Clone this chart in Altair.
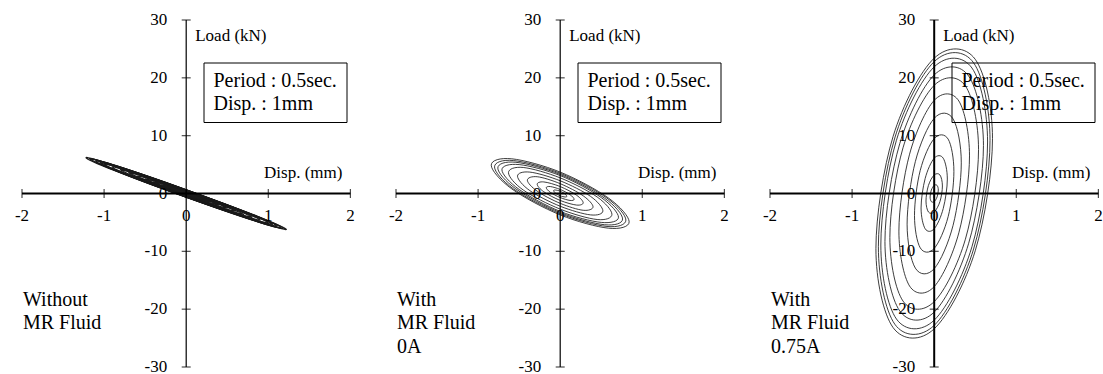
import altair as alt
import pandas as pd

# ---------------- data ----------------
X_TICKS = [-2, -1, 0, 1, 2]
Y_TICKS = [-30, -20, -10, 0, 10, 20, 30]
X_TITLE = "Disp. (mm)"
Y_TITLE = "Load (kN)"
BOX_LINES = ["Period : 0.5sec.", "Disp. : 1mm"]
PANEL_LABELS = [["Without", "MR Fluid"],
                ["With", "MR Fluid", "0A"],
                ["With", "MR Fluid", "0.75A"]]

# Panel 1 : without MR fluid (8 points read around each loop)
P1_DISP = [
    [1.22, 0.86, 0.0, -0.86, -1.22, -0.86, 0.0, 0.86],
    [1.18, 0.83, 0.0, -0.83, -1.18, -0.83, 0.0, 0.83],
    [1.15, 0.81, 0.0, -0.81, -1.15, -0.81, 0.0, 0.81],
    [1.10, 0.78, 0.0, -0.78, -1.10, -0.78, 0.0, 0.78],
    [1.05, 0.74, 0.0, -0.74, -1.05, -0.74, 0.0, 0.74],
    [1.00, 0.71, 0.0, -0.71, -1.00, -0.71, 0.0, 0.71],
    [0.90, 0.64, 0.0, -0.64, -0.90, -0.64, 0.0, 0.64],
    [0.80, 0.57, 0.0, -0.57, -0.80, -0.57, 0.0, 0.57],
    [0.70, 0.49, 0.0, -0.49, -0.70, -0.49, 0.0, 0.49],
    [0.60, 0.42, 0.0, -0.42, -0.60, -0.42, 0.0, 0.42],
    [0.50, 0.35, 0.0, -0.35, -0.50, -0.35, 0.0, 0.35],
    [0.40, 0.28, 0.0, -0.28, -0.40, -0.28, 0.0, 0.28],
    [0.30, 0.21, 0.0, -0.21, -0.30, -0.21, 0.0, 0.21],
    [0.20, 0.14, 0.0, -0.14, -0.20, -0.14, 0.0, 0.14],
]
P1_LOAD = [
    [-6.2, -4.8, -0.65, 3.9, 6.2, 4.8, 0.65, -3.9],
    [-6.0, -4.7, -0.63, 3.8, 6.0, 4.7, 0.63, -3.8],
    [-5.9, -4.6, -0.62, 3.7, 5.9, 4.6, 0.62, -3.7],
    [-5.6, -4.4, -0.59, 3.5, 5.6, 4.4, 0.59, -3.5],
    [-5.3, -4.2, -0.56, 3.4, 5.3, 4.2, 0.56, -3.4],
    [-5.1, -4.0, -0.54, 3.2, 5.1, 4.0, 0.54, -3.2],
    [-4.6, -3.6, -0.48, 2.9, 4.6, 3.6, 0.48, -2.9],
    [-4.1, -3.2, -0.43, 2.6, 4.1, 3.2, 0.43, -2.6],
    [-3.6, -2.8, -0.38, 2.3, 3.6, 2.8, 0.38, -2.3],
    [-3.0, -2.4, -0.32, 1.9, 3.0, 2.4, 0.32, -1.9],
    [-2.5, -2.0, -0.27, 1.6, 2.5, 2.0, 0.27, -1.6],
    [-2.0, -1.6, -0.21, 1.3, 2.0, 1.6, 0.21, -1.3],
    [-1.5, -1.2, -0.16, 1.0, 1.5, 1.2, 0.16, -1.0],
    [-1.0, -0.8, -0.11, 0.6, 1.0, 0.8, 0.11, -0.6],
]

# Panel 2 : with MR fluid, 0 A
P2_DISP = [
    [0.84, 0.59, 0.0, -0.59, -0.84, -0.59, 0.0, 0.59],
    [0.80, 0.57, 0.0, -0.57, -0.80, -0.57, 0.0, 0.57],
    [0.76, 0.54, 0.0, -0.54, -0.76, -0.54, 0.0, 0.54],
    [0.71, 0.50, 0.0, -0.50, -0.71, -0.50, 0.0, 0.50],
    [0.63, 0.45, 0.0, -0.45, -0.63, -0.45, 0.0, 0.45],
    [0.52, 0.37, 0.0, -0.37, -0.52, -0.37, 0.0, 0.37],
    [0.40, 0.28, 0.0, -0.28, -0.40, -0.28, 0.0, 0.28],
    [0.28, 0.20, 0.0, -0.20, -0.28, -0.20, 0.0, 0.20],
    [0.17, 0.12, 0.0, -0.12, -0.17, -0.12, 0.0, 0.12],
    [0.08, 0.06, 0.0, -0.06, -0.08, -0.06, 0.0, 0.06],
]
P2_LOAD = [
    [-4.9, -6.0, -3.7, 0.8, 4.9, 6.0, 3.7, -0.8],
    [-4.6, -5.7, -3.5, 0.8, 4.6, 5.7, 3.5, -0.8],
    [-4.4, -5.4, -3.3, 0.8, 4.4, 5.4, 3.3, -0.8],
    [-4.1, -5.0, -3.1, 0.7, 4.1, 5.0, 3.1, -0.7],
    [-3.6, -4.5, -2.7, 0.6, 3.6, 4.5, 2.7, -0.6],
    [-3.0, -3.7, -2.2, 0.5, 3.0, 3.7, 2.2, -0.5],
    [-2.3, -2.9, -1.7, 0.4, 2.3, 2.9, 1.7, -0.4],
    [-1.6, -2.0, -1.2, 0.3, 1.6, 2.0, 1.2, -0.3],
    [-1.0, -1.2, -0.7, 0.2, 1.0, 1.2, 0.7, -0.2],
    [-0.5, -0.6, -0.4, 0.1, 0.5, 0.6, 0.4, -0.1],
]

# Panel 3 : with MR fluid, 0.75 A
P3_DISP = [
    [0.71, 0.50, 0.0, -0.50, -0.71, -0.50, 0.0, 0.50],
    [0.68, 0.48, 0.0, -0.48, -0.68, -0.48, 0.0, 0.48],
    [0.65, 0.46, 0.0, -0.46, -0.65, -0.46, 0.0, 0.46],
    [0.60, 0.42, 0.0, -0.42, -0.60, -0.42, 0.0, 0.42],
    [0.54, 0.38, 0.0, -0.38, -0.54, -0.38, 0.0, 0.38],
    [0.43, 0.30, 0.0, -0.30, -0.43, -0.30, 0.0, 0.30],
    [0.33, 0.23, 0.0, -0.23, -0.33, -0.23, 0.0, 0.23],
    [0.24, 0.17, 0.0, -0.17, -0.24, -0.17, 0.0, 0.17],
    [0.16, 0.11, 0.0, -0.11, -0.16, -0.11, 0.0, 0.11],
    [0.10, 0.07, 0.0, -0.07, -0.10, -0.07, 0.0, 0.07],
    [0.05, 0.035, 0.0, -0.035, -0.05, -0.035, 0.0, 0.035],
]
P3_LOAD = [
    [9.5, 23.2, 23.4, 9.9, -9.5, -23.2, -23.4, -9.9],
    [9.2, 22.6, 22.8, 9.6, -9.2, -22.6, -22.8, -9.6],
    [8.9, 21.7, 21.9, 9.2, -8.9, -21.7, -21.9, -9.2],
    [8.3, 20.3, 20.5, 8.6, -8.3, -20.3, -20.5, -8.6],
    [7.6, 18.6, 18.7, 7.9, -7.6, -18.6, -18.7, -7.9],
    [6.5, 16.0, 16.1, 6.8, -6.5, -16.0, -16.1, -6.8],
    [5.3, 12.9, 13.0, 5.5, -5.3, -12.9, -13.0, -5.5],
    [3.8, 9.4, 9.5, 4.0, -3.8, -9.4, -9.5, -4.0],
    [2.5, 6.1, 6.1, 2.6, -2.5, -6.1, -6.1, -2.6],
    [1.3, 3.2, 3.2, 1.4, -1.3, -3.2, -3.2, -1.4],
    [0.6, 1.4, 1.4, 0.6, -0.6, -1.4, -1.4, -0.6],
]

# ---------------- layout / style ----------------
FONT = "Liberation Serif, Times New Roman, serif"
KX = 82.1            # px per mm
KY = 347.0 / 60.0    # px per kN
LEFT_PX = 22         # px from panel edge to x = -2
TOP_PX = 20          # px from top to y = 30
BOTTOM_PX = 7        # px from y = -30 to bottom
H = 374
Y_LO = min(Y_TICKS) - BOTTOM_PX / KY
Y_HI = max(Y_TICKS) + TOP_PX / KY


def panel(disp, load, labels, width, yaxis_w, curve_w):
    lo = min(X_TICKS) - LEFT_PX / KX
    hi = lo + width / KX
    xs = alt.Scale(domain=[lo, hi], nice=False, zero=False)
    ys = alt.Scale(domain=[Y_LO, Y_HI], nice=False, zero=False)

    def X(f):
        return alt.X(f, type="quantitative", scale=xs, axis=None)

    def Y(f):
        return alt.Y(f, type="quantitative", scale=ys, axis=None)

    rows = []
    for li, (dx_, ly_) in enumerate(zip(disp, load)):
        for pi, (a, b) in enumerate(zip(dx_, ly_)):
            rows.append({"loop": li, "idx": pi, "disp": a, "load": b})
    df = pd.DataFrame(rows)

    curves = alt.Chart(df).mark_line(
        interpolate="cardinal-closed", color="#1a1a1a", strokeWidth=curve_w
    ).encode(x=X("disp"), y=Y("load"), detail="loop:N", order="idx:Q")

    xaxis = alt.Chart(pd.DataFrame({"a": [min(X_TICKS)], "b": [max(X_TICKS)], "y": [0]})).mark_rule(
        color="black", strokeWidth=2
    ).encode(x=X("a"), x2="b:Q", y=Y("y"))

    yaxis = alt.Chart(pd.DataFrame({"a": [min(Y_TICKS)], "b": [max(Y_TICKS)], "x": [0]})).mark_rule(
        color="black", strokeWidth=yaxis_w
    ).encode(y=Y("a"), y2="b:Q", x=X("x"))

    xt = pd.DataFrame({"v": X_TICKS, "z": [0] * len(X_TICKS), "t": [str(v) for v in X_TICKS]})
    yt = pd.DataFrame({"v": Y_TICKS, "z": [0] * len(Y_TICKS), "t": [str(v) for v in Y_TICKS]})

    xticks = alt.Chart(xt).mark_tick(orient="vertical", size=9, thickness=1.2, color="black").encode(
        x=X("v"), y=Y("z"))
    yticks = alt.Chart(yt).mark_tick(orient="horizontal", size=9, thickness=1.2, color="black").encode(
        y=Y("v"), x=X("z"))

    xlabels = alt.Chart(xt).mark_text(font=FONT, fontSize=17, dy=22, baseline="middle", align="center",
                                      color="black").encode(x=X("v"), y=Y("z"), text="t:N")
    ylabels = alt.Chart(yt).mark_text(font=FONT, fontSize=17, dx=-19, baseline="middle", align="right",
                                      color="black").encode(y=Y("v"), x=X("z"), text="t:N")

    ytitle = alt.Chart(pd.DataFrame({"x": [0], "y": [max(Y_TICKS)], "t": [Y_TITLE]})).mark_text(
        font=FONT, fontSize=17, align="left", baseline="middle", dx=9, dy=16, color="black"
    ).encode(x=X("x"), y=Y("y"), text="t:N")
    xtitle = alt.Chart(pd.DataFrame({"x": [max(X_TICKS)], "y": [0], "t": [X_TITLE]})).mark_text(
        font=FONT, fontSize=17, align="right", baseline="middle", dx=-8, dy=-21, color="black"
    ).encode(x=X("x"), y=Y("y"), text="t:N")

    box = alt.Chart(pd.DataFrame({"k": [0]})).mark_rect(
        fillOpacity=0, stroke="black", strokeWidth=1
    ).encode(x=alt.value(204), x2=alt.value(347), y=alt.value(63), y2=alt.value(122.5))

    layers = [curves, xaxis, yaxis, xticks, yticks, xlabels, ylabels, ytitle, xtitle, box]
    for i, line in enumerate(BOX_LINES):
        layers.append(alt.Chart(pd.DataFrame({"t": [line]})).mark_text(
            font=FONT, fontSize=20, align="left", baseline="middle", color="black"
        ).encode(x=alt.value(213.5), y=alt.value(81 + 23 * i), text="t:N"))
    for i, line in enumerate(labels):
        layers.append(alt.Chart(pd.DataFrame({"t": [line]})).mark_text(
            font=FONT, fontSize=20, align="left", baseline="middle", color="black"
        ).encode(x=alt.value(23), y=alt.value(300 + 23.3 * i), text="t:N"))

    return alt.layer(*layers).properties(width=width, height=H)


p1 = panel(P1_DISP, P1_LOAD, PANEL_LABELS[0], 374, 1.2, 1.3)
p2 = panel(P2_DISP, P2_LOAD, PANEL_LABELS[1], 374, 1.2, 0.85)
p3 = panel(P3_DISP, P3_LOAD, PANEL_LABELS[2], 355, 2, 0.85)

chart = alt.hconcat(p1, p2, p3, spacing=0).properties(
    padding=0, background="white"
).configure_view(strokeWidth=0)

chart.save("out.html", embed_options={"renderer": "svg", "actions": False})
